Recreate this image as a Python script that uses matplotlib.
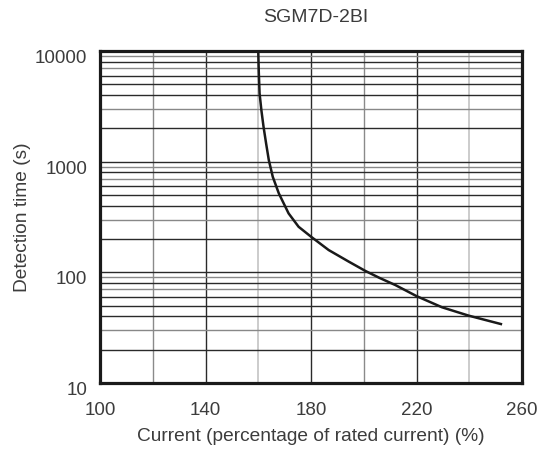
import numpy as np
import matplotlib
matplotlib.use('Agg')
import matplotlib.pyplot as plt
from matplotlib.transforms import ScaledTranslation

# Curve (current %, detection time s)
current = [160, 160.2, 160.5, 161.2, 162, 163, 164, 165.5, 167.8, 171.5, 175.3, 180,
           186.7, 194.3, 200.6, 206, 212, 220, 229.7, 239.8, 252]
det_time = [10000, 6500, 4140, 2900, 2070, 1450, 1034, 730, 517, 341, 258, 210,
            159, 125, 103, 89, 76.7, 61, 48.3, 40.6, 34.1]

x_ticks = [100, 140, 180, 220, 260]
y_ticks = [10, 100, 1000, 10000]
y_labels = ['10', '100', '1000', '10000']

plt.rcParams['font.family'] = ['Liberation Sans', 'DejaVu Sans']
txt = '#3c3c3c'

fig = plt.figure(figsize=(5.39, 4.57), dpi=100)
ax = fig.add_axes([100/539, 1-383/457, 422/539, 332/457])
ax.set_yscale('log')
ax.set_xlim(100, 260)
ax.set_ylim(10, 10000)

# vertical grid
for xv in [120, 200]:
    ax.axvline(xv, color='#8a8a8a', lw=1.0, zorder=1)
for xv in [160, 240]:
    ax.axvline(xv, color='#c4c4c4', lw=1.2, zorder=1)
for xv in [140, 180, 220]:
    ax.axvline(xv, color='#2a2a2a', lw=1.0, zorder=1)

# horizontal grid (minor log lines, dark / grey mix)
shade = {2: '#2a2a2a', 3: '#888888', 4: '#2a2a2a', 5: '#2a2a2a', 6: '#2a2a2a',
         7: '#888888', 8: '#2a2a2a', 9: '#888888'}
for dec in [10, 100, 1000]:
    for m in range(2, 10):
        ax.axhline(dec * m, color=shade[m], lw=1.0, zorder=1)
    if dec > 10:
        ax.axhline(dec, color='#2a2a2a', lw=1.0, zorder=1)

ax.plot(current, det_time, color='#1a1a1a', lw=1.8, zorder=3)

ax.set_xticks(x_ticks)
ax.set_yticks(y_ticks)
ax.set_yticklabels(y_labels)
ax.yaxis.set_minor_locator(matplotlib.ticker.NullLocator())
ax.tick_params(length=0, labelsize=13.5, colors=txt)
ax.tick_params(axis='x', pad=14)
ax.tick_params(axis='y', pad=9)
# y labels sit a little below their grid line in the reference
for lab in ax.get_yticklabels():
    lab.set_transform(lab.get_transform() + ScaledTranslation(0, -4/72, fig.dpi_scale_trans))
for s in ax.spines.values():
    s.set_linewidth(2.3)
    s.set_color('#1a1a1a')

ax.set_xlabel('Current (percentage of rated current) (%)', fontsize=13.8, color=txt, labelpad=6)
ax.set_ylabel('Detection time (s)', fontsize=13.8, color=txt, labelpad=3)
fig.text(316/539, 1-18/457, 'SGM7D-2BI', ha='center', va='center', fontsize=14, color=txt)

fig.savefig('out.png', dpi=100)
